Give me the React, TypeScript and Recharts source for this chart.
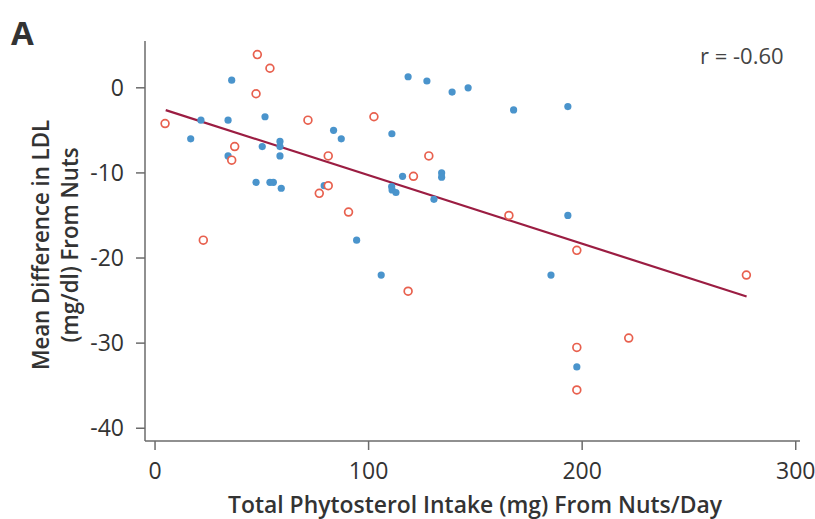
import React from 'react';
import { ScatterChart, Scatter, XAxis, YAxis, ReferenceLine } from 'recharts';

const blueIntake = [35.9, 21.5, 34.2, 51.5, 16.7, 58.5, 58.5, 50.2, 58.5, 34.2, 83.6, 87.2, 47.3, 53.8, 55.4, 59.1, 79.2, 94.4, 105.9, 118.5, 127.3, 139.1, 146.6, 167.9, 193.3, 110.9, 115.9, 134.2, 134.2, 110.8, 111, 112.8, 130.6, 193.3, 185.4, 197.5];
const blueLdl = [0.9, -3.8, -3.8, -3.4, -6.0, -6.3, -6.9, -6.9, -8.0, -8.0, -5.0, -6.0, -11.1, -11.1, -11.1, -11.8, -11.5, -17.9, -22.0, 1.3, 0.8, -0.5, 0, -2.6, -2.2, -5.4, -10.4, -10.0, -10.5, -11.6, -12.0, -12.3, -13.1, -15.0, -22.0, -32.8];

const redIntake = [47.9, 53.8, 47.3, 4.7, 71.6, 102.5, 37.3, 35.9, 81.1, 81.1, 76.9, 22.6, 90.6, 128.2, 121, 165.7, 197.5, 118.5, 276.9, 221.8, 197.5, 197.5];
const redLdl = [3.9, 2.3, -0.7, -4.2, -3.8, -3.4, -6.9, -8.5, -8.0, -11.5, -12.4, -17.9, -14.6, -8.0, -10.4, -15.0, -19.1, -23.9, -22.0, -29.4, -30.5, -35.5];

const xTicks = [0, 100, 200, 300];
const yTicks = [0, -10, -20, -30, -40];

const fitStart = 5;
const fitEnd = 277;
const fitSlope = -0.0805;
const fitIntercept = -2.22;

const blueData = blueIntake.map((x, i) => ({ x, y: blueLdl[i] }));
const redData = redIntake.map((x, i) => ({ x, y: redLdl[i] }));

const BLUE = '#4a94cc';
const RED = '#e8604e';
const LINE = '#9b1d42';
const AXIS = '#6b6b6b';
const TEXT = '#333333';
const FONT = '"Open Sans", "Noto Sans", sans-serif';

const BlueDot = (p: any) => <circle cx={p.cx} cy={p.cy} r={3.6} fill={BLUE} />;
const RedDot = (p: any) => (
  <circle cx={p.cx} cy={p.cy} r={3.9} fill="#ffffff" stroke={RED} strokeWidth={1.7} />
);

export default function App() {
  const tickStyle = { fill: TEXT, fontSize: 23, fontFamily: FONT };
  return (
    <div style={{ position: 'absolute', left: 0, top: 0, width: 815, height: 519, background: '#fff', overflow: 'hidden' }}>
      <ScatterChart width={815} height={519} margin={{ top: 41, right: 15, bottom: 38, left: 85 }}>
        <XAxis
          type="number"
          dataKey="x"
          domain={[-4.7, 302]}
          ticks={xTicks}
          allowDataOverflow
          height={40}
          tickSize={9}
          tickMargin={13}
          stroke={AXIS}
          strokeWidth={1.5}
          tick={tickStyle}
        />
        <YAxis
          type="number"
          dataKey="y"
          domain={[-41.5, 5.5]}
          ticks={yTicks}
          allowDataOverflow
          width={60}
          tickSize={9}
          tickMargin={12}
          stroke={AXIS}
          strokeWidth={1.5}
          tick={tickStyle}
        />
        <Scatter data={blueData} shape={BlueDot} isAnimationActive={false} />
        <ReferenceLine
          segment={[
            { x: fitStart, y: fitIntercept + fitSlope * fitStart },
            { x: fitEnd, y: fitIntercept + fitSlope * fitEnd },
          ]}
          stroke={LINE}
          strokeWidth={2.2}
          ifOverflow="visible"
        />
        <Scatter data={redData} shape={RedDot} isAnimationActive={false} />
      </ScatterChart>
      <div style={{ position: 'absolute', left: 11, top: 13, fontFamily: FONT, fontWeight: 700, fontSize: 33, color: TEXT, lineHeight: '40px' }}>A</div>
      <div style={{ position: 'absolute', left: 700, top: 40, fontFamily: FONT, fontSize: 22, color: '#444', lineHeight: '30px', whiteSpace: 'nowrap' }}>r = -0.60</div>
      <div
        style={{
          position: 'absolute',
          left: 54,
          top: 245,
          transform: 'translate(-50%, -50%) rotate(-90deg) scaleX(0.926)',
          fontFamily: FONT,
          fontWeight: 600,
          fontSize: 24,
          color: TEXT,
          lineHeight: '29px',
          textAlign: 'center',
          whiteSpace: 'nowrap',
        }}
      >
        Mean Difference in LDL
        <br />
        (mg/dl) From Nuts
      </div>
      <div
        style={{
          position: 'absolute',
          left: 475,
          top: 504,
          transform: 'translate(-50%, -50%) scaleX(0.954)',
          fontFamily: FONT,
          fontWeight: 600,
          fontSize: 24,
          color: TEXT,
          lineHeight: '24px',
          whiteSpace: 'nowrap',
        }}
      >
        Total Phytosterol Intake (mg) From Nuts/Day
      </div>
    </div>
  );
}
